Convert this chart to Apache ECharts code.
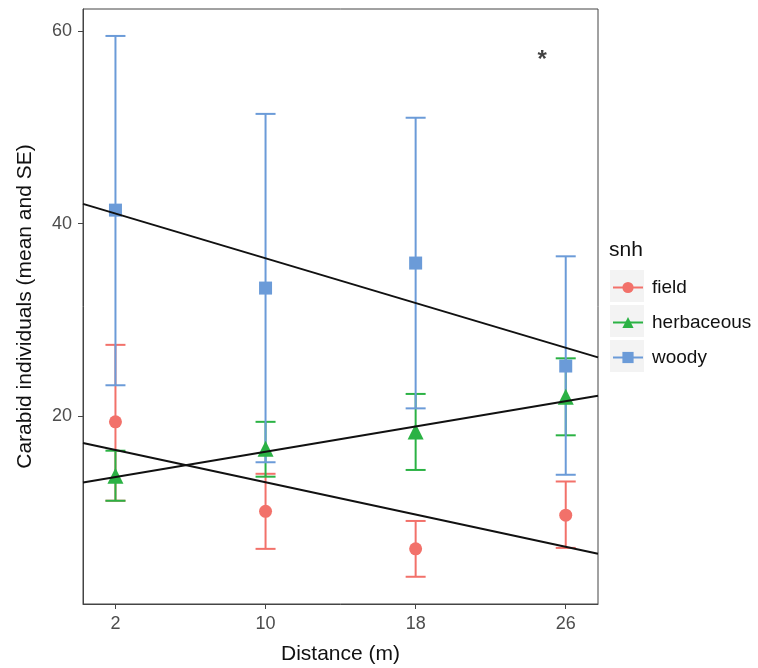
<!DOCTYPE html>
<html>
<head>
<meta charset="utf-8">
<script src="https://cdn.jsdelivr.net/npm/echarts@6/dist/echarts.min.js"></script>
<style>
  html, body { margin: 0; padding: 0; background: #fff; }
  #chart { width: 758px; height: 668px; }
</style>
</head>
<body>
<div id="chart"></div>
<script>
// distance classes (m)
var distance = [2, 10, 18, 26];

// mean and SE limits
var fieldMean = [19.4, 10.1, 6.2, 9.7];
var fieldLo   = [11.2, 6.2, 3.3, 6.3];
var fieldHi   = [27.4, 14.0, 9.1, 13.2];

var herbMean = [13.8, 16.6, 18.4, 22.0];
var herbLo   = [11.2, 13.7, 14.4, 18.0];
var herbHi   = [16.4, 19.4, 22.3, 26.0];

var woodyMean = [41.4, 33.3, 35.9, 25.2];
var woodyLo   = [23.2, 15.2, 20.8, 13.9];
var woodyHi   = [59.5, 51.4, 51.0, 36.6];

// fitted lines, value at left and right edge of the panel
var xRange = [0.27, 27.72];
var fieldFit = [17.2, 5.7];
var herbFit  = [13.1, 22.1];
var woodyFit = [42.05, 26.1];

var xTicks = [2, 10, 18, 26];
var yTicks = [20, 40, 60];
var star = [24.75, 57.6];

var colors = { field: '#f2716a', herbaceous: '#2bb244', woody: '#6b9bd8' };

function pts(ys) {
  return distance.map(function (x, i) { return [x, ys[i]]; });
}
function bars(lo, hi) {
  return distance.map(function (x, i) { return [x, lo[i], hi[i]]; });
}
function fit(ys) {
  return [[xRange[0], ys[0]], [xRange[1], ys[1]]];
}

function errorBar(color) {
  return function (params, api) {
    var x = api.value(0);
    var top = api.coord([x, api.value(2)]);
    var bot = api.coord([x, api.value(1)]);
    var hw = 10;
    var st = { stroke: color, lineWidth: 2 };
    return {
      type: 'group',
      children: [
        { type: 'line', shape: { x1: top[0], y1: top[1], x2: bot[0], y2: bot[1] }, style: st },
        { type: 'line', shape: { x1: top[0] - hw, y1: top[1], x2: top[0] + hw, y2: top[1] }, style: st },
        { type: 'line', shape: { x1: bot[0] - hw, y1: bot[1], x2: bot[0] + hw, y2: bot[1] }, style: st }
      ]
    };
  };
}

function barSeries(name, lo, hi) {
  return {
    name: name + ' SE',
    type: 'custom',
    renderItem: errorBar(colors[name]),
    encode: { x: 0, y: [1, 2] },
    data: bars(lo, hi),
    z: 2,
    silent: true
  };
}

function pointSeries(name, ys, symbol, size) {
  return {
    name: name,
    type: 'line',
    data: pts(ys),
    symbol: symbol,
    symbolSize: size,
    showSymbol: true,
    lineStyle: { width: 0 },
    itemStyle: { color: colors[name], opacity: 1 },
    z: 3
  };
}

function fitSeries(ys) {
  return {
    type: 'line',
    data: fit(ys),
    symbol: 'none',
    lineStyle: { color: '#111', width: 2 },
    z: 4,
    silent: true
  };
}

var keyBg = [286, 321, 356].map(function (cy) {
  return {
    type: 'rect',
    shape: { x: 610, y: cy - 16, width: 34, height: 32 },
    style: { fill: '#f3f3f3' },
    z: -1
  };
});

var chart = echarts.init(document.getElementById('chart'));
chart.setOption({
  animation: false,
  textStyle: { fontFamily: 'Liberation Sans, Arial, sans-serif' },
  title: {
    text: 'snh',
    left: 609,
    top: 240,
    padding: 0,
    textStyle: { fontSize: 21, fontWeight: 'normal', color: '#111' }
  },
  legend: {
    data: ['field', 'herbaceous', 'woody'],
    orient: 'vertical',
    left: 612,
    top: 278,
    padding: 0,
    itemWidth: 30,
    itemHeight: 14,
    itemGap: 16,
    lineStyle: { width: 2 },
    textStyle: { fontSize: 19, color: '#111', padding: [0, 0, 0, 4] }
  },
  graphic: keyBg,
  grid: {
    left: 83, right: 160, top: 9, bottom: 64,
    outerBoundsMode: 'none',
    show: true, borderColor: '#444', borderWidth: 1
  },
  xAxis: {
    type: 'value',
    min: xRange[0],
    max: xRange[1],
    name: 'Distance (m)',
    nameLocation: 'middle',
    nameGap: 40,
    nameTextStyle: { fontSize: 21, color: '#111' },
    axisLine: { show: true, lineStyle: { color: '#444', width: 1 } },
    axisTick: { show: true, customValues: xTicks, length: 5, lineStyle: { color: '#444' } },
    axisLabel: { customValues: xTicks, fontSize: 18, color: '#4d4d4d', margin: 11 },
    splitLine: { show: false }
  },
  yAxis: {
    type: 'value',
    min: 0.47,
    max: 62.3,
    name: 'Carabid individuals (mean and SE)',
    nameLocation: 'middle',
    nameGap: 47,
    nameTextStyle: { fontSize: 21, color: '#111' },
    axisLine: { show: true, lineStyle: { color: '#444', width: 1 } },
    axisTick: { show: true, customValues: yTicks, length: 5, lineStyle: { color: '#444' } },
    axisLabel: { customValues: yTicks, fontSize: 18, color: '#4d4d4d', margin: 11 },
    splitLine: { show: false }
  },
  series: [
    barSeries('field', fieldLo, fieldHi),
    barSeries('herbaceous', herbLo, herbHi),
    barSeries('woody', woodyLo, woodyHi),
    pointSeries('field', fieldMean, 'circle', 13),
    pointSeries('herbaceous', herbMean, 'triangle', 16),
    pointSeries('woody', woodyMean, 'rect', 13),
    fitSeries(fieldFit),
    fitSeries(herbFit),
    fitSeries(woodyFit),
    {
      type: 'scatter',
      data: [star],
      symbolSize: 0,
      itemStyle: { color: 'transparent' },
      label: {
        show: true, formatter: '*', position: 'inside',
        fontSize: 24, fontWeight: 'bold', color: '#111', offset: [0, 6]
      },
      silent: true
    }
  ]
});
</script>
</body>
</html>
